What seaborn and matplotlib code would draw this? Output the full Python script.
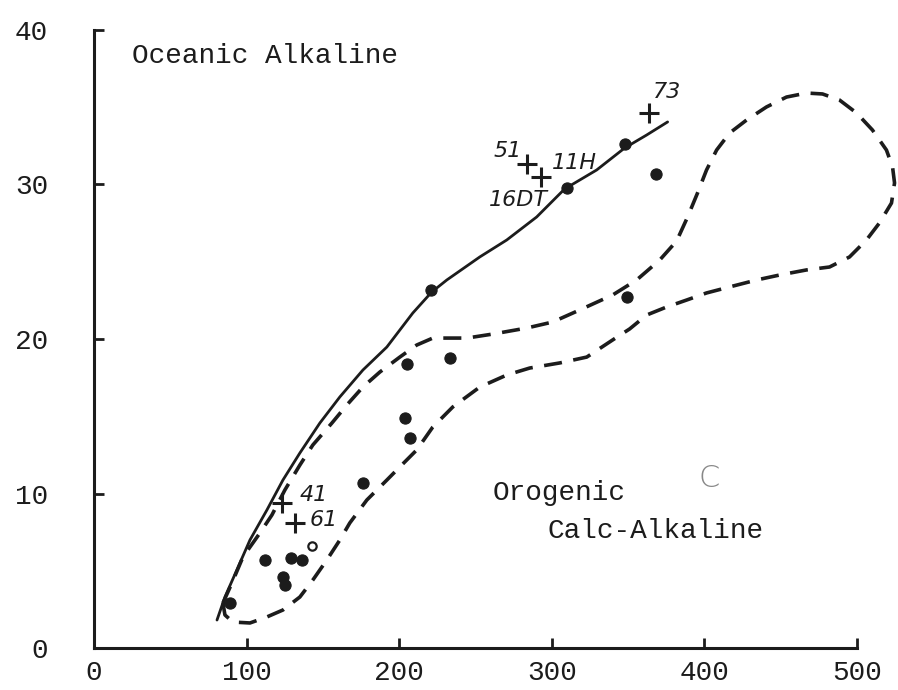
import matplotlib
matplotlib.use("Agg")
import matplotlib.pyplot as plt
import seaborn as sns
import pandas as pd

# ---- data ----
dot_x = [89, 112, 129, 136, 124, 125, 176, 204, 207, 205, 233, 221, 310, 348, 368, 349]
dot_y = [2.9, 5.7, 5.8, 5.7, 4.6, 4.1, 10.7, 14.9, 13.6, 18.4, 18.8, 23.2, 29.8, 32.6, 30.7, 22.7]
open_x = [143]
open_y = [6.6]

cross_names = ["73", "51", "11H", "41", "61"]
cross_x = [364, 284, 293, 123, 132]
cross_y = [34.6, 31.3, 30.5, 9.4, 8.1]

label_names = ["73", "51", "11H", "16DT", "41", "61"]
label_x = [366, 262, 300, 259, 135, 141]
label_y = [36.0, 32.2, 31.4, 29.0, 9.9, 8.3]

line_x = [80.6, 85.8, 93.6, 102.2, 113.3, 123.8, 134.9, 148.0, 161.1, 176.2, 191.9,
          208.9, 221.3, 231.2, 252.8, 270.5, 290.1, 308.4, 329.4, 347.7, 362.1, 375.9]
line_y = [1.81, 3.30, 5.05, 6.99, 8.93, 10.87, 12.62, 14.56, 16.25, 17.99, 19.48,
          21.68, 23.04, 23.82, 25.31, 26.41, 27.90, 29.71, 30.94, 32.36, 33.20, 34.05]

field_x = [84.5, 90.4, 97.6, 108.7, 116.6, 125.1, 134.9, 143.4, 155.9, 165.7, 176.2,
           187.3, 200.4, 211.5, 222.0, 231.2, 244.3, 261.3, 283.6, 300.6, 318.3, 339.9,
           355.6, 370.7, 381.8, 389.0, 395.5, 401.4, 408.0, 416.5, 427.6, 440.7, 453.8,
           466.9, 477.4, 488.5, 499.7, 510.1, 519.3, 523.3, 524.6, 522.6, 514.7, 506.2,
           495.1, 482.0, 466.9, 449.2, 434.2, 416.5, 401.4, 388.3, 375.2, 362.1, 351.0,
           339.9, 322.9, 305.2, 285.5, 270.5, 252.8, 235.1, 222.0, 211.5, 200.4, 191.9,
           178.8, 167.6, 161.1, 152.6, 143.4, 134.9, 123.8, 113.3, 102.2, 91.0, 85.8, 84.5]
field_y = [2.91, 4.21, 5.89, 7.44, 8.61, 10.23, 11.84, 13.14, 14.56, 15.73, 16.89,
           17.86, 18.83, 19.61, 20.06, 20.06, 20.06, 20.32, 20.71, 21.10, 21.88, 22.85,
           23.82, 25.11, 26.34, 27.90, 29.45, 30.94, 32.23, 33.33, 34.17, 35.02, 35.66,
           35.92, 35.86, 35.47, 34.63, 33.53, 32.23, 31.13, 30.10, 28.80, 27.51, 26.41,
           25.31, 24.66, 24.47, 24.14, 23.82, 23.37, 22.98, 22.52, 22.07, 21.55, 20.65,
           19.94, 18.83, 18.45, 18.12, 17.67, 16.89, 15.60, 14.30, 12.82, 11.72, 10.87,
           9.58, 8.09, 6.99, 5.70, 4.40, 3.30, 2.46, 2.01, 1.62, 1.68, 2.14, 2.91]

x_ticks = [0, 100, 200, 300, 400, 500]
y_ticks = [0, 10, 20, 30, 40]
region_labels = ["Oceanic Alkaline", "Orogenic", "Calc-Alkaline"]
region_x = [25, 261, 297]
region_y = [38.3, 10.0, 7.6]

# ---- plot ----
sns.set_theme(style="ticks")
plt.rcParams["font.family"] = ["Liberation Mono", "DejaVu Sans"]

fig = plt.figure(figsize=(8.98, 6.90), dpi=100)
ax = fig.add_axes([94 / 898, 1 - 648 / 690, (857 - 94) / 898, (648 - 30) / 690])

ink = "#1c1c1c"

df_field = pd.DataFrame({"x": field_x, "y": field_y})
sns.lineplot(data=df_field, x="x", y="y", sort=False, estimator=None, ax=ax,
             color=ink, linewidth=2.6)
fl = ax.lines[-1]
fl.set_linestyle((0, (5, 3.2)))
fl.set_clip_on(False)
fl.set_solid_capstyle("round")

df_line = pd.DataFrame({"x": line_x, "y": line_y})
sns.lineplot(data=df_line, x="x", y="y", sort=False, estimator=None, ax=ax,
             color=ink, linewidth=2.0)

sns.scatterplot(x=dot_x, y=dot_y, ax=ax, color=ink, s=65, edgecolor=ink,
                linewidth=0.8, zorder=5)
sns.scatterplot(x=open_x, y=open_y, ax=ax, color="white", s=36, edgecolor=ink,
                linewidth=1.6, zorder=5)
sns.scatterplot(x=cross_x, y=cross_y, ax=ax, marker="+", s=220, color=ink,
                linewidth=2.2, zorder=5)

for t, x, y in zip(label_names, label_x, label_y):
    ax.text(x, y, t, fontsize=16, style="italic", family="DejaVu Sans",
            color=ink, ha="left", va="center")

for t, x, y in zip(region_labels, region_x, region_y):
    ax.text(x, y, t, fontsize=20, color=ink, ha="left", va="center")

ax.text(396, 11.0, "C", fontsize=22, color="#888888", ha="left", va="center",
        family="DejaVu Sans", fontweight="light")

ax.set_xlim(0, 500)
ax.set_ylim(0, 40)
ax.set_xticks(x_ticks)
ax.set_yticks(y_ticks)
ax.set_xticklabels([str(v) for v in x_ticks])
ax.set_yticklabels([str(v) for v in y_ticks])
ax.set_xlabel("")
ax.set_ylabel("")
ax.tick_params(axis="both", direction="in", length=7, width=2, colors=ink,
               labelsize=20, labelcolor=ink)
ax.tick_params(axis="y", pad=33)
ax.tick_params(axis="x", pad=9)
sns.despine(ax=ax)
for s in ["left", "bottom"]:
    ax.spines[s].set_linewidth(2.2)
    ax.spines[s].set_color(ink)

fig.savefig("out.png", dpi=100)
